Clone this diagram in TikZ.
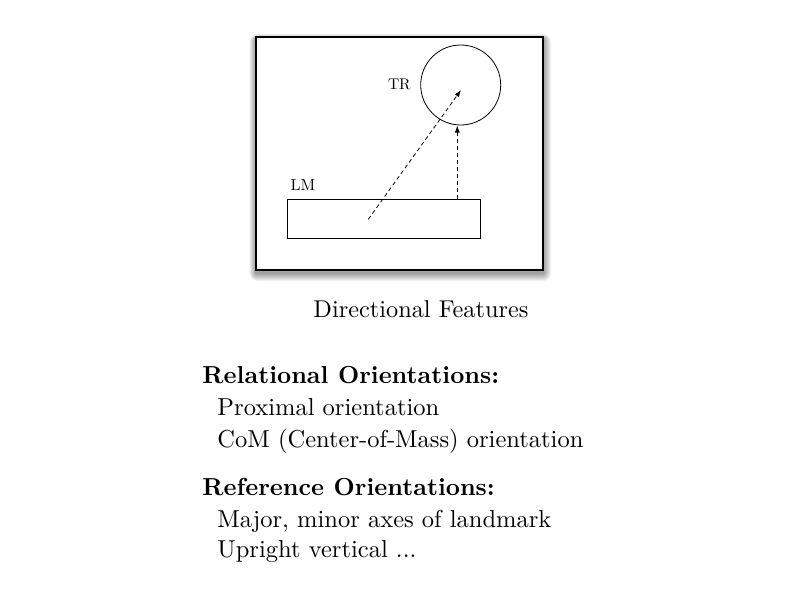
\documentclass[tikz,border=0pt]{standalone}
\usetikzlibrary{arrows.meta}
\begin{document}
\begin{tikzpicture}[x=1pt,y=-1pt,
  thinline/.style={line width=0.8pt},
  dasharrow/.style={thinline, dash pattern=on 4pt off 3pt, -{Latex[length=7pt,width=5pt]}},
  smalllabel/.style={inner sep=0pt, font=\fontsize{10}{12}\selectfont},
  bodytext/.style={anchor=base west, inner sep=0pt, scale=2.45, font=\fontsize{10}{12}\selectfont},
  headtext/.style={anchor=base west, inner sep=0pt, scale=2.46, font=\fontsize{10}{12}\selectfont\bfseries}
]
\useasboundingbox (0,0) rectangle (800,600);
% soft drop shadow
\foreach \k in {1,2,3,4,5,6,7,8}{
  \fill[black, opacity=0.055, rounded corners=\k pt] (256-\k*0.8, 39-\k*0.6) rectangle (543+\k*1.0, 273+\k*1.0);
}
\node[draw, fill=white, line width=1.1pt, minimum width=287pt, minimum height=233pt, inner sep=0pt] (frame) at (399.5,153.5) {};
\node[circle, draw, thinline, minimum size=80pt, inner sep=0pt] (tr) at (460.7,85) {};
\node[draw, thinline, minimum width=193pt, minimum height=39pt, inner sep=0pt] (lm) at (383.7,218.8) {};
\node[smalllabel, scale=1.55] (trl) at (399.3,84.3) {TR};
\node[smalllabel, scale=1.6] (lml) at (303,185) {LM};
\coordinate (a1s) at (368.3,219.3);
\coordinate (a1e) at (461,90);
\coordinate (a2s) at (457.3,199.3);
\coordinate (a2e) at (457.3,125.5);
\draw[dasharrow] (a1s) -- (a1e);
\draw[dasharrow] (a2s) -- (a2e);
% text
\node[bodytext, scale=0.992] (title) at (313,317) {Directional Features};
\node[headtext] (rel) at (202,383) {Relational Orientations:};
\node[bodytext] (prox) at (217,415) {Proximal orientation};
\node[bodytext] (com) at (217,447) {CoM (Center-of-Mass) orientation};
\node[headtext] (ref) at (202,495) {Reference Orientations:};
\node[bodytext] (maj) at (217,527) {Major, minor axes of landmark};
\node[bodytext] (up) at (217,557) {Upright vertical ...};
\end{tikzpicture}
\end{document}
